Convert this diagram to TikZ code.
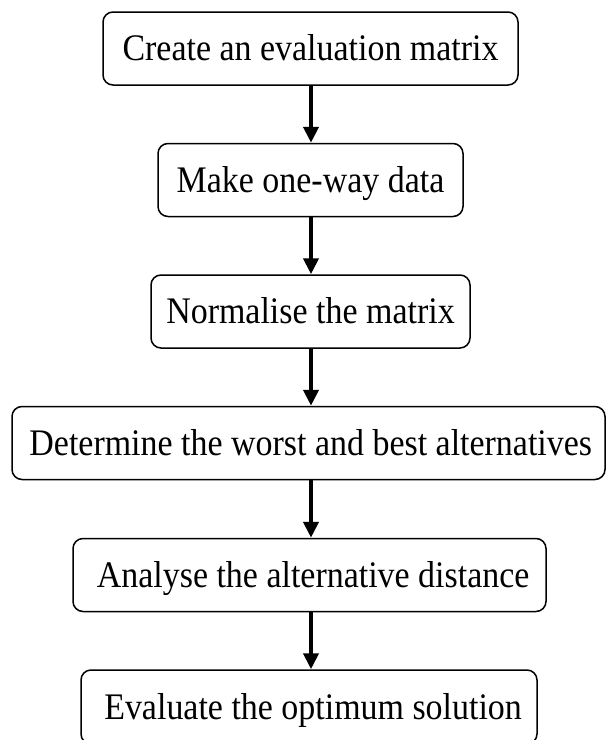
\documentclass[tikz,border=0pt]{standalone}
\usepackage{fontspec}
\setmainfont{Liberation Serif}
\usetikzlibrary{arrows.meta}
\begin{document}
\begin{tikzpicture}[x=1pt,y=-1pt,
  stepbox/.style={draw=black, line width=1.5pt, rounded corners=10pt, inner sep=0pt,
    minimum height=73pt, text height=24.8pt, text depth=0pt,
    font=\fontsize{37.5}{40}\selectfont},
  flow/.style={line width=4pt, -{Triangle[width=15pt,length=16pt]}}]
\useasboundingbox (0,0) rectangle (606,740);
\newcommand{\sq}[1]{\scalebox{0.905}[1]{#1}}
\node[stepbox, minimum width=415pt] (b1) at (310.5,48.5) {\sq{Create an evaluation matrix}};
\node[stepbox, minimum width=305pt] (b2) at (310.5,180) {\sq{Make one-way data}};
\node[stepbox, minimum width=319pt] (b3) at (310.5,311.5) {\sq{Normalise the matrix}};
\node[stepbox, minimum width=593pt] (b4) at (308.5,443) {\sq{\hspace*{5pt}Determine the worst and best alternatives}};
\node[stepbox, minimum width=473pt] (b5) at (309.5,575) {\sq{\hspace*{8pt}Analyse the alternative distance}};
\node[stepbox, minimum width=456pt, minimum height=74pt] (b6) at (309,707) {\sq{\hspace*{9pt}Evaluate the optimum solution}};
\coordinate (ax) at (311,0);
\draw[flow] (b1.south -| ax) -- (b2.north -| ax);
\draw[flow] (b2.south -| ax) -- (b3.north -| ax);
\draw[flow] (b3.south -| ax) -- (b4.north -| ax);
\draw[flow] (b4.south -| ax) -- (b5.north -| ax);
\draw[flow] (b5.south -| ax) -- (b6.north -| ax);
\end{tikzpicture}
\end{document}
